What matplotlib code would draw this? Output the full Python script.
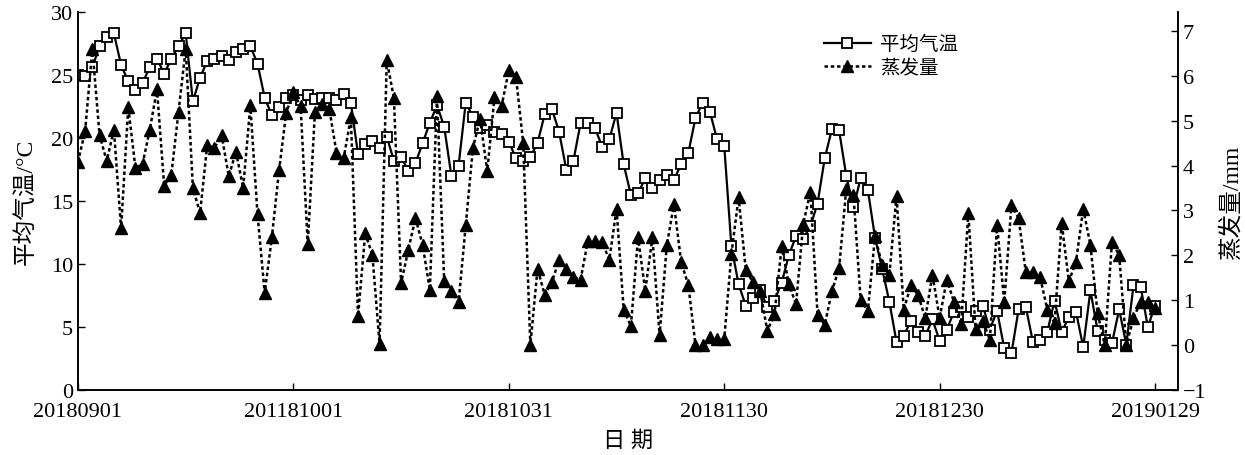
import matplotlib
matplotlib.use("Agg")
import matplotlib.pyplot as plt
import numpy as np

# daily series, 2018-09-01 .. 2019-01-29
days = np.arange(151)
temp = [25.0, 24.9, 25.6, 27.3, 28.0, 28.3, 25.8, 24.5, 23.8, 24.4,
        25.6, 26.3, 25.1, 26.3, 27.3, 28.3, 22.9, 24.8, 26.1, 26.3,
        26.5, 26.2, 26.8, 27.1, 27.3, 25.9, 23.2, 21.8, 22.5, 23.2,
        23.4, 23.0, 23.4, 23.1, 23.2, 23.2, 23.0, 23.5, 22.8, 18.7,
        19.5, 19.8, 19.2, 20.1, 18.2, 18.5, 17.4, 18.0, 19.6, 21.2,
        22.6, 20.9, 17.0, 17.8, 22.8, 21.7, 20.8, 21.0, 20.5, 20.3,
        19.7, 18.4, 18.2, 18.5, 19.6, 21.9, 22.3, 20.5, 17.5, 18.2,
        21.2, 21.2, 20.8, 19.3, 19.9, 22.0, 17.9, 15.5, 15.6, 16.8,
        16.0, 16.7, 17.1, 16.7, 17.9, 18.8, 21.6, 22.8, 22.1, 19.9,
        19.4, 11.4, 8.4, 6.7, 7.3, 7.9, 6.6, 7.1, 8.5, 10.7,
        12.2, 12.0, 13.0, 14.8, 18.4, 20.7, 20.6, 17.0, 14.5, 16.8,
        15.9, 12.1, 9.6, 7.0, 3.8, 4.3, 5.5, 4.6, 4.3, 5.6,
        3.9, 4.8, 6.2, 6.6, 5.8, 6.3, 6.7, 4.8, 6.3, 3.3,
        2.9, 6.4, 6.6, 3.8, 4.0, 4.6, 7.1, 4.6, 5.8, 6.2,
        3.4, 7.9, 4.7, 4.0, 3.7, 6.4, 3.6, 8.3, 8.2, 5.0,
        6.7]
evap = [4.08, 4.78, 6.6, 4.68, 4.1, 4.8, 2.6, 5.3, 3.94, 4.04,
        4.8, 5.7, 3.55, 3.8, 5.2, 6.6, 3.5, 2.94, 4.46, 4.39,
        4.68, 3.76, 4.31, 3.5, 5.34, 2.92, 1.16, 2.4, 3.89, 5.18,
        5.63, 5.32, 2.25, 5.2, 5.37, 5.26, 4.29, 4.16, 5.07, 0.64,
        2.49, 2.01, 0.02, 6.35, 5.5, 1.38, 2.12, 2.83, 2.23, 1.23,
        5.54, 1.43, 1.2, 0.95, 2.68, 4.39, 5.04, 3.87, 5.52, 5.33,
        6.12, 5.97, 4.51, 0.0, 1.7, 1.12, 1.4, 1.9, 1.7, 1.51,
        1.46, 2.31, 2.31, 2.29, 1.9, 3.04, 0.79, 0.42, 2.4, 1.21,
        2.4, 0.22, 2.22, 3.14, 1.85, 1.34, 0.0, 0.0, 0.17, 0.13,
        0.13, 2.03, 3.29, 1.68, 1.4, 1.21, 0.32, 0.69, 2.2, 1.36,
        0.91, 2.69, 3.42, 0.68, 0.45, 1.2, 1.71, 3.48, 3.35, 1.01,
        0.75, 2.42, 1.79, 1.57, 3.33, 0.79, 1.33, 1.12, 0.6, 1.57,
        0.6, 1.46, 0.96, 0.47, 2.94, 0.36, 0.54, 0.12, 2.68, 0.96,
        3.11, 2.83, 1.63, 1.63, 1.51, 0.79, 0.49, 2.72, 1.42, 1.86,
        3.04, 2.23, 0.71, 0.0, 2.29, 2.01, 0.0, 0.6, 0.97, 0.96,
        0.82]

tick_days = [0, 30, 60, 90, 120, 150]
tick_labels = ['20180901', '201181001', '20181031', '20181130', '20181230', '20190129']

fonts = ['Liberation Serif', 'Noto Sans CJK SC']
plt.rcParams['font.family'] = fonts
plt.rcParams['font.size'] = 16

fig = plt.figure(figsize=(12.45, 4.56), dpi=100)
ax = fig.add_axes([78 / 1245, 1 - 391 / 456, 1100 / 1245, 378 / 456])
ax2 = ax.twinx()

l1, = ax.plot(days, temp, color='black', lw=1.6, marker='s', markersize=6.8,
              markerfacecolor='white', markeredgecolor='black', markeredgewidth=1.3,
              label='平均气温')
l2, = ax2.plot(days, evap, color='black', lw=1.8, linestyle=(0, (1.4, 1.1)),
               marker='^', markersize=8, markerfacecolor='black',
               markeredgecolor='black', label='蒸发量')

ax.set_xlim(0, 153.2)
ax.set_ylim(0, 30)
ax.set_yticks(range(0, 31, 5))
ax2.set_ylim(-1, 7.42)
ax2.set_yticks(range(-1, 8))

ax.set_xticks(tick_days)
ax.set_xticklabels(tick_labels)

for a in (ax, ax2):
    a.spines['top'].set_visible(False)
    for s in a.spines.values():
        s.set_linewidth(1.2)
    a.tick_params(direction='in', length=5, width=1.0, labelsize=16)
ax.tick_params(axis='x', pad=9)

ax.set_xlabel('日 期', fontsize=16, labelpad=6)
ax.set_ylabel('平均气温/°C', fontsize=17, labelpad=10)
ax2.set_ylabel('蒸发量/mm', fontsize=17, labelpad=10)

fig.legend(handles=[l1, l2], loc='upper left', bbox_to_anchor=(824 / 1245, 1 - 36 / 456),
           bbox_transform=fig.transFigure, frameon=False, fontsize=14,
           handlelength=2.4, handletextpad=0.5, labelspacing=0.3,
           borderpad=0, borderaxespad=0)

fig.savefig('out.png', dpi=100)
